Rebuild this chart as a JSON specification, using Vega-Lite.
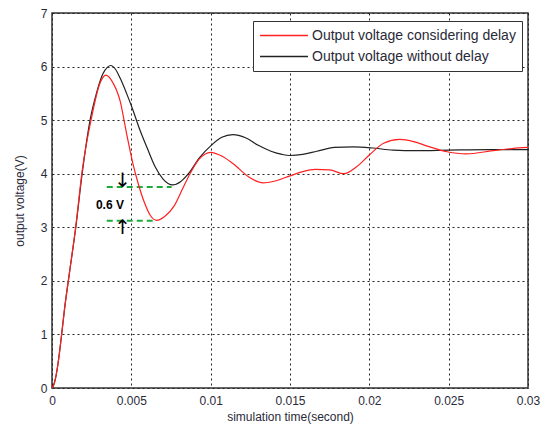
{
  "$schema": "https://vega.github.io/schema/vega-lite/v6.json",
  "autosize": "none",
  "width": 476,
  "height": 375,
  "padding": {"left": 52, "top": 13, "right": 13, "bottom": 39},
  "background": "white",
  "config": {
    "font": "Liberation Sans",
    "view": {"stroke": "#333", "strokeWidth": 1.5},
    "axis": {
      "labelFont": "Liberation Sans",
      "titleFont": "Liberation Sans",
      "labelFontSize": 12,
      "titleFontSize": 12,
      "labelColor": "#2a2a38",
      "titleColor": "#2a2a38",
      "titleFontWeight": "normal",
      "domain": false,
      "ticks": false,
      "grid": true,
      "gridColor": "#222",
      "gridDash": [2, 3],
      "gridWidth": 1,
      "gridOpacity": 1
    }
  },
  "datasets": {
    "curves": [
      {"t": 0, "v": 0, "s": "Output voltage without delay"},
      {"t": 0.0001, "v": 0.05, "s": "Output voltage without delay"},
      {"t": 0.0002, "v": 0.15, "s": "Output voltage without delay"},
      {"t": 0.0004, "v": 0.5, "s": "Output voltage without delay"},
      {"t": 0.0006, "v": 0.98, "s": "Output voltage without delay"},
      {"t": 0.0008, "v": 1.5, "s": "Output voltage without delay"},
      {"t": 0.0011, "v": 2.15, "s": "Output voltage without delay"},
      {"t": 0.0015, "v": 3.0, "s": "Output voltage without delay"},
      {"t": 0.0019, "v": 4.0, "s": "Output voltage without delay"},
      {"t": 0.0024, "v": 5.0, "s": "Output voltage without delay"},
      {"t": 0.0028, "v": 5.5, "s": "Output voltage without delay"},
      {"t": 0.0032, "v": 5.86, "s": "Output voltage without delay"},
      {"t": 0.0035, "v": 5.99, "s": "Output voltage without delay"},
      {"t": 0.0037, "v": 6.02, "s": "Output voltage without delay"},
      {"t": 0.0040, "v": 5.95, "s": "Output voltage without delay"},
      {"t": 0.0043, "v": 5.78, "s": "Output voltage without delay"},
      {"t": 0.0047, "v": 5.5, "s": "Output voltage without delay"},
      {"t": 0.0051, "v": 5.19, "s": "Output voltage without delay"},
      {"t": 0.0055, "v": 4.85, "s": "Output voltage without delay"},
      {"t": 0.006, "v": 4.48, "s": "Output voltage without delay"},
      {"t": 0.0065, "v": 4.13, "s": "Output voltage without delay"},
      {"t": 0.007, "v": 3.9, "s": "Output voltage without delay"},
      {"t": 0.0076, "v": 3.79, "s": "Output voltage without delay"},
      {"t": 0.0081, "v": 3.85, "s": "Output voltage without delay"},
      {"t": 0.0086, "v": 4.0, "s": "Output voltage without delay"},
      {"t": 0.0093, "v": 4.3, "s": "Output voltage without delay"},
      {"t": 0.01, "v": 4.52, "s": "Output voltage without delay"},
      {"t": 0.0107, "v": 4.68, "s": "Output voltage without delay"},
      {"t": 0.0114, "v": 4.73, "s": "Output voltage without delay"},
      {"t": 0.0122, "v": 4.67, "s": "Output voltage without delay"},
      {"t": 0.013, "v": 4.53, "s": "Output voltage without delay"},
      {"t": 0.0138, "v": 4.42, "s": "Output voltage without delay"},
      {"t": 0.0145, "v": 4.36, "s": "Output voltage without delay"},
      {"t": 0.015, "v": 4.34, "s": "Output voltage without delay"},
      {"t": 0.0158, "v": 4.36, "s": "Output voltage without delay"},
      {"t": 0.0167, "v": 4.42, "s": "Output voltage without delay"},
      {"t": 0.0178, "v": 4.49, "s": "Output voltage without delay"},
      {"t": 0.019, "v": 4.5, "s": "Output voltage without delay"},
      {"t": 0.0202, "v": 4.48, "s": "Output voltage without delay"},
      {"t": 0.0215, "v": 4.44, "s": "Output voltage without delay"},
      {"t": 0.023, "v": 4.43, "s": "Output voltage without delay"},
      {"t": 0.025, "v": 4.44, "s": "Output voltage without delay"},
      {"t": 0.0275, "v": 4.45, "s": "Output voltage without delay"},
      {"t": 0.03, "v": 4.45, "s": "Output voltage without delay"},
      {"t": 0, "v": 0, "s": "Output voltage considering delay"},
      {"t": 0.0001, "v": 0.05, "s": "Output voltage considering delay"},
      {"t": 0.0002, "v": 0.15, "s": "Output voltage considering delay"},
      {"t": 0.0004, "v": 0.5, "s": "Output voltage considering delay"},
      {"t": 0.0006, "v": 0.98, "s": "Output voltage considering delay"},
      {"t": 0.0008, "v": 1.5, "s": "Output voltage considering delay"},
      {"t": 0.0011, "v": 2.15, "s": "Output voltage considering delay"},
      {"t": 0.0015, "v": 3.02, "s": "Output voltage considering delay"},
      {"t": 0.0019, "v": 4.05, "s": "Output voltage considering delay"},
      {"t": 0.0025, "v": 5.06, "s": "Output voltage considering delay"},
      {"t": 0.003, "v": 5.67, "s": "Output voltage considering delay"},
      {"t": 0.0034, "v": 5.84, "s": "Output voltage considering delay"},
      {"t": 0.0038, "v": 5.72, "s": "Output voltage considering delay"},
      {"t": 0.0043, "v": 5.35, "s": "Output voltage considering delay"},
      {"t": 0.0047, "v": 4.75, "s": "Output voltage considering delay"},
      {"t": 0.0051, "v": 4.19, "s": "Output voltage considering delay"},
      {"t": 0.0054, "v": 3.85, "s": "Output voltage considering delay"},
      {"t": 0.0058, "v": 3.48, "s": "Output voltage considering delay"},
      {"t": 0.0062, "v": 3.22, "s": "Output voltage considering delay"},
      {"t": 0.0066, "v": 3.13, "s": "Output voltage considering delay"},
      {"t": 0.0071, "v": 3.2, "s": "Output voltage considering delay"},
      {"t": 0.0077, "v": 3.4, "s": "Output voltage considering delay"},
      {"t": 0.0082, "v": 3.7, "s": "Output voltage considering delay"},
      {"t": 0.0087, "v": 4.0, "s": "Output voltage considering delay"},
      {"t": 0.0093, "v": 4.28, "s": "Output voltage considering delay"},
      {"t": 0.01, "v": 4.4, "s": "Output voltage considering delay"},
      {"t": 0.0107, "v": 4.33, "s": "Output voltage considering delay"},
      {"t": 0.0114, "v": 4.19, "s": "Output voltage considering delay"},
      {"t": 0.0125, "v": 3.92, "s": "Output voltage considering delay"},
      {"t": 0.0133, "v": 3.83, "s": "Output voltage considering delay"},
      {"t": 0.014, "v": 3.86, "s": "Output voltage considering delay"},
      {"t": 0.015, "v": 3.96, "s": "Output voltage considering delay"},
      {"t": 0.0158, "v": 4.04, "s": "Output voltage considering delay"},
      {"t": 0.0166, "v": 4.08, "s": "Output voltage considering delay"},
      {"t": 0.0175, "v": 4.07, "s": "Output voltage considering delay"},
      {"t": 0.0184, "v": 4.0, "s": "Output voltage considering delay"},
      {"t": 0.0192, "v": 4.13, "s": "Output voltage considering delay"},
      {"t": 0.02, "v": 4.35, "s": "Output voltage considering delay"},
      {"t": 0.0209, "v": 4.57, "s": "Output voltage considering delay"},
      {"t": 0.0219, "v": 4.64, "s": "Output voltage considering delay"},
      {"t": 0.0228, "v": 4.6, "s": "Output voltage considering delay"},
      {"t": 0.0237, "v": 4.51, "s": "Output voltage considering delay"},
      {"t": 0.0249, "v": 4.41, "s": "Output voltage considering delay"},
      {"t": 0.0261, "v": 4.37, "s": "Output voltage considering delay"},
      {"t": 0.0278, "v": 4.43, "s": "Output voltage considering delay"},
      {"t": 0.029, "v": 4.47, "s": "Output voltage considering delay"},
      {"t": 0.03, "v": 4.49, "s": "Output voltage considering delay"}
    ],
    "guides": [
      {"t1": 0.00345, "t2": 0.00754, "v": 3.75},
      {"t1": 0.00345, "t2": 0.0065, "v": 3.12}
    ],
    "arrows": [
      {"t": 0.00445, "v": 3.87, "g": "↓"},
      {"t": 0.00445, "v": 2.98, "g": "↑"}
    ],
    "label": [
      {"t": 0.00365, "v": 3.42, "txt": "0.6 V"}
    ]
  },
  "layer": [
    {
      "data": {"name": "guides"},
      "mark": {"type": "rule", "color": "#1faa3c", "strokeWidth": 2, "strokeDash": [6, 4]},
      "encoding": {
        "x": {"field": "t1", "type": "quantitative"},
        "x2": {"field": "t2"},
        "y": {"field": "v", "type": "quantitative"}
      }
    },
    {
      "data": {"name": "curves"},
      "mark": {"type": "line", "strokeWidth": 1.2, "interpolate": "monotone"},
      "encoding": {
        "x": {
          "field": "t", "type": "quantitative",
          "scale": {"domain": [0, 0.03], "nice": false, "zero": false},
          "axis": {"values": [0, 0.005, 0.01, 0.015, 0.02, 0.025, 0.03], "format": "~g", "title": "simulation time(second)", "labelPadding": 7, "titlePadding": 5, "labelFlush": false, "labelOverlap": false}
        },
        "y": {
          "field": "v", "type": "quantitative",
          "scale": {"domain": [0, 7], "nice": false},
          "axis": {"values": [0, 1, 2, 3, 4, 5, 6, 7], "format": "d", "title": "output voltage(V)", "labelPadding": 5, "titlePadding": 14}
        },
        "color": {
          "field": "s", "type": "nominal",
          "scale": {"domain": ["Output voltage considering delay", "Output voltage without delay"], "range": ["#ff2020", "#222222"]},
          "legend": {
            "title": null,
            "orient": "none",
            "legendX": 201,
            "legendY": 8,
            "direction": "vertical",
            "symbolType": "stroke",
            "symbolSize": 2300,
            "symbolStrokeWidth": 1.5,
            "clipHeight": 17,
            "labelFont": "Liberation Sans",
            "labelFontSize": 14,
            "labelColor": "#2a2a38",
            "labelLimit": 400,
            "labelOffset": 3,
            "rowPadding": 4,
            "padding": 6,
            "strokeColor": "#333",
            "fillColor": "white"
          }
        },
        "order": {"field": "s", "sort": "descending"}
      }
    },
    {
      "data": {"name": "arrows"},
      "mark": {"type": "text", "fontSize": 20, "font": "DejaVu Sans", "color": "black", "baseline": "middle"},
      "encoding": {
        "x": {"field": "t", "type": "quantitative"},
        "y": {"field": "v", "type": "quantitative"},
        "text": {"field": "g"}
      }
    },
    {
      "data": {"name": "label"},
      "mark": {"type": "text", "fontSize": 12, "fontWeight": "bold", "font": "Liberation Sans", "color": "black", "baseline": "middle"},
      "encoding": {
        "x": {"field": "t", "type": "quantitative"},
        "y": {"field": "v", "type": "quantitative"},
        "text": {"field": "txt"}
      }
    }
  ]
}
